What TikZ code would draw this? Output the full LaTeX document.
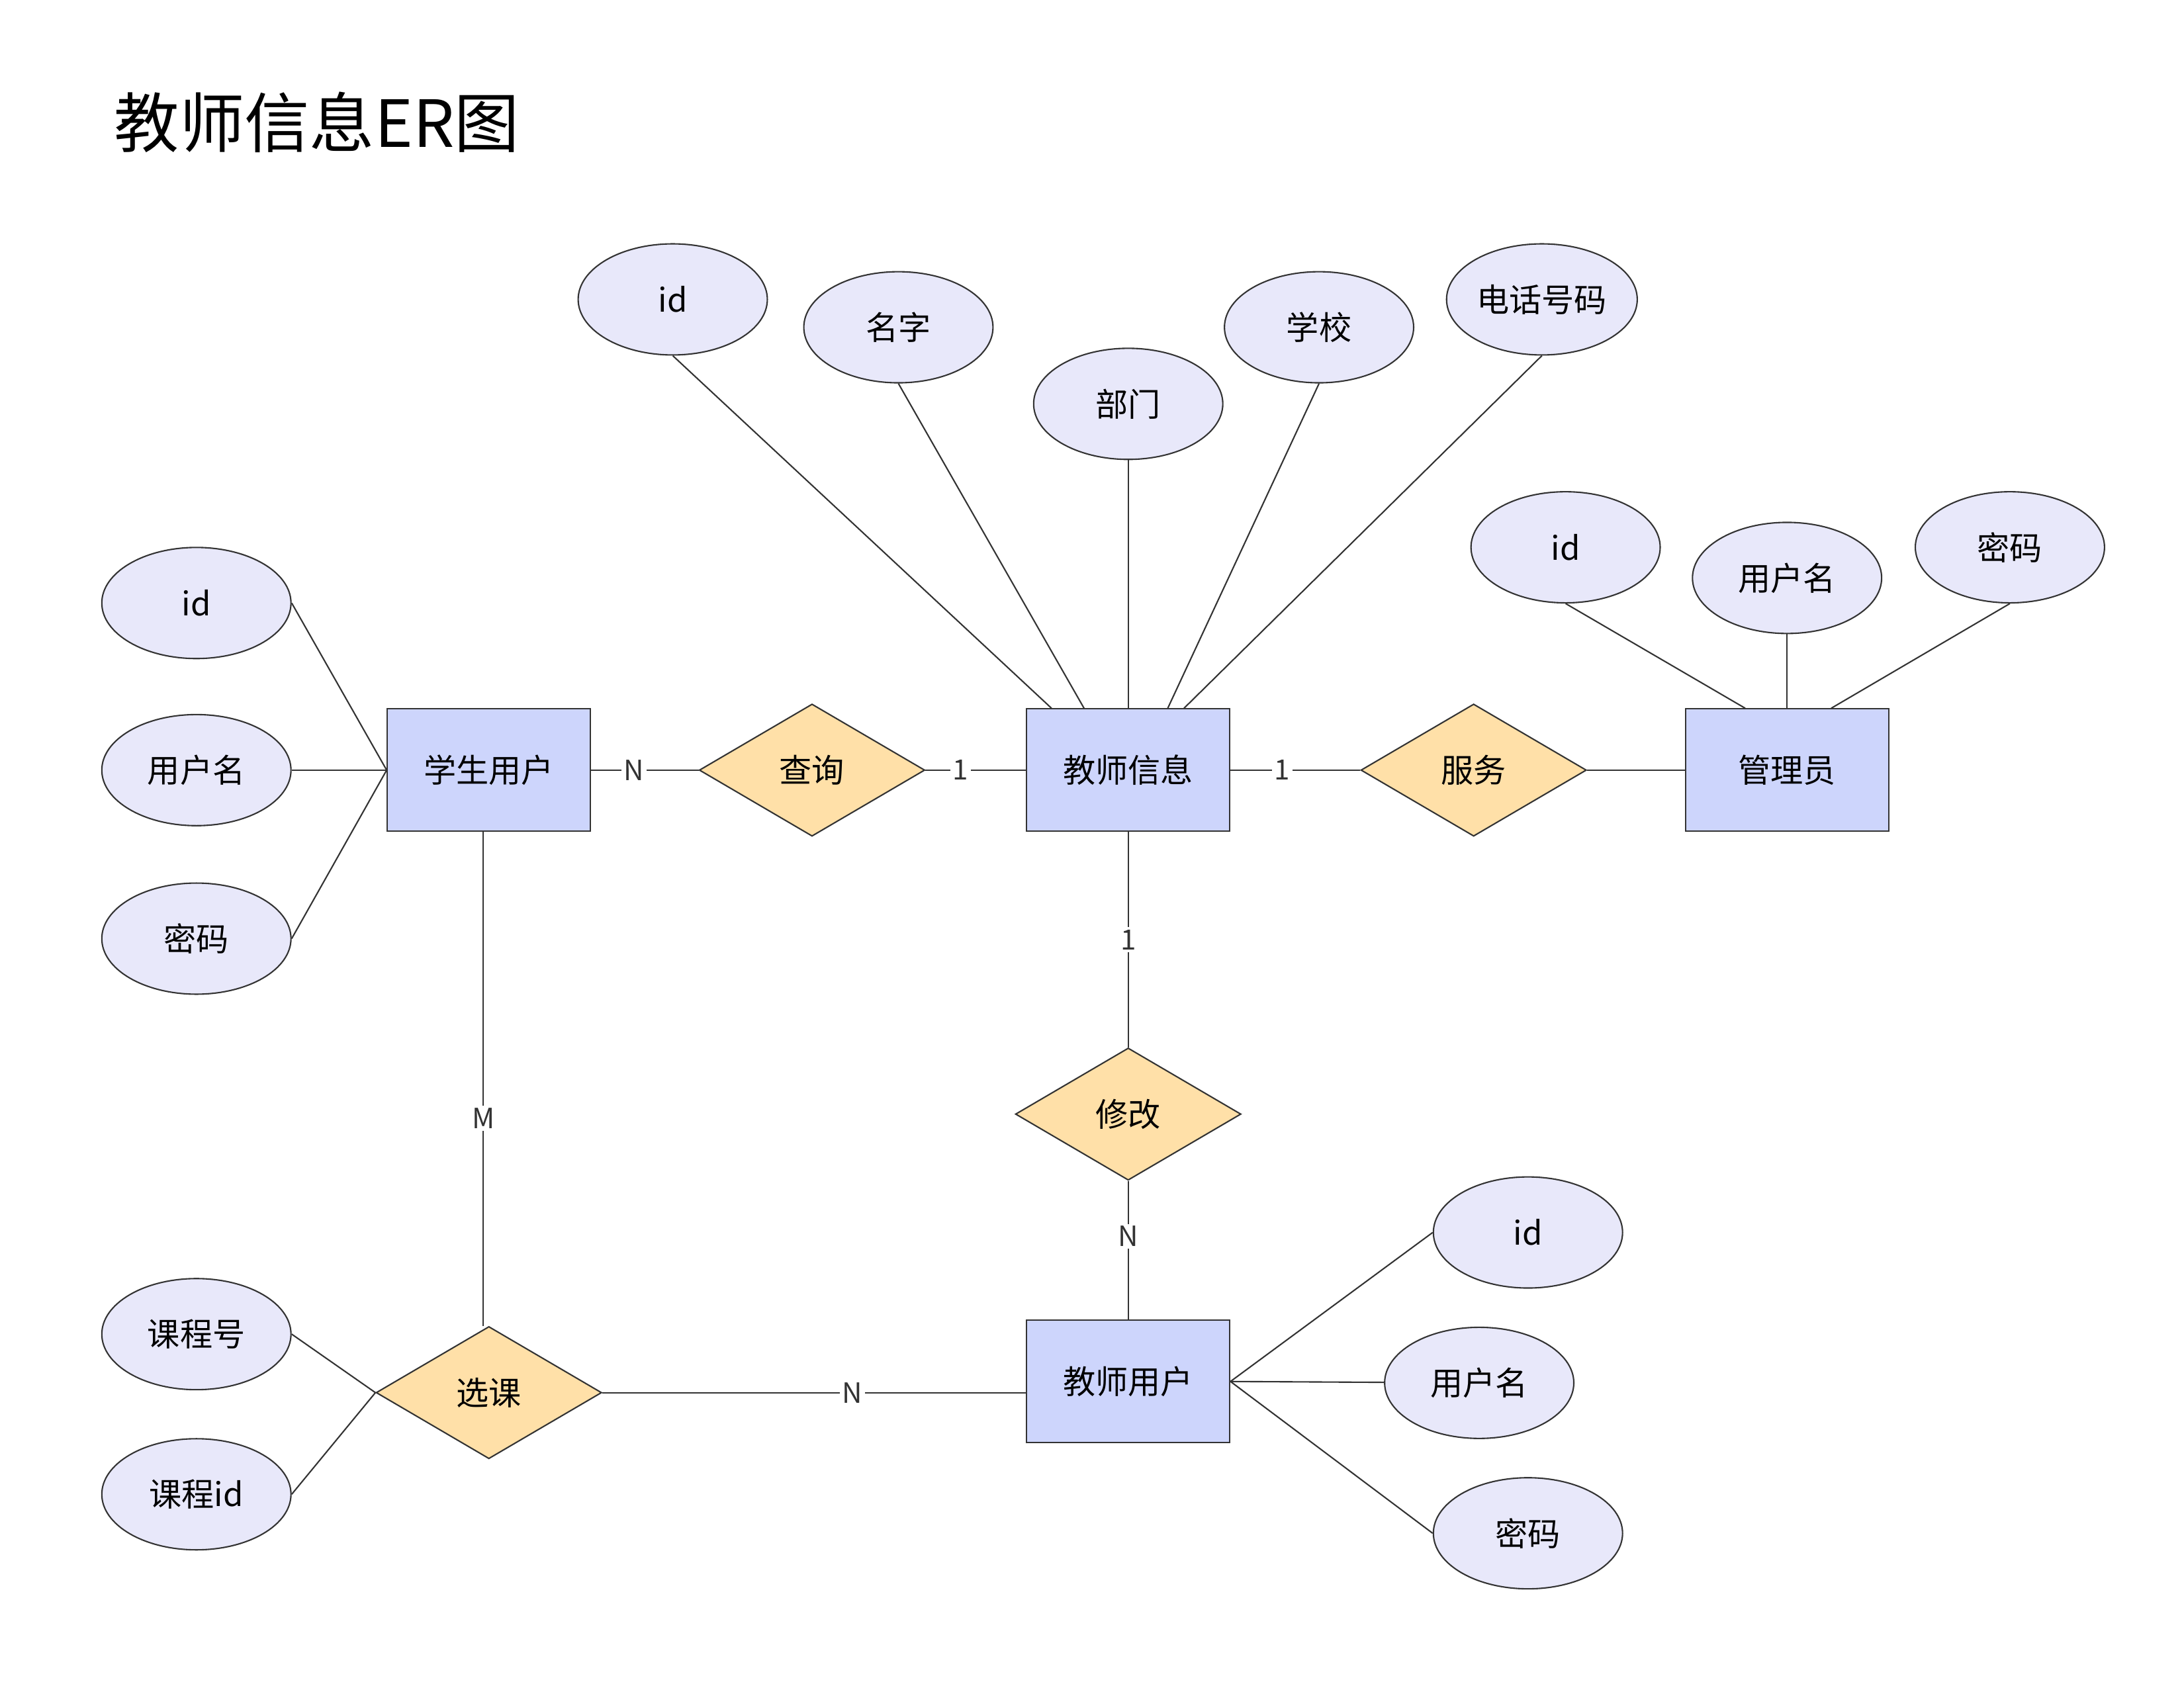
\documentclass[tikz,border=0pt]{standalone}
\usepackage{fontspec}
\setmainfont{Noto Sans CJK SC}
\usetikzlibrary{shapes.geometric}
\definecolor{attrfill}{HTML}{E8E8FA}
\definecolor{entfill}{HTML}{CDD5FC}
\definecolor{relfill}{HTML}{FFE0A8}
\definecolor{linec}{HTML}{333333}
\tikzset{
	attr/.style={shape=ellipse,draw=linec,fill=attrfill,minimum width=2.86cm,minimum height=1.68cm,inner sep=1pt,font=\fontsize{14}{16}\selectfont},
	ent/.style={shape=rectangle,draw=linec,fill=entfill,minimum width=3.07cm,minimum height=1.85cm,font=\fontsize{14}{16}\selectfont},
	rel/.style={shape=diamond,draw=linec,fill=relfill,minimum width=3.41cm,minimum height=2.0cm,inner sep=0pt,font=\fontsize{14}{16}\selectfont},
	card/.style={fill=white,inner sep=1pt,text=linec,font=\fontsize{12}{14}\selectfont}
}
\begin{document}
\begin{tikzpicture}[x=0.02105cm,y=-0.02105cm,line width=0.6pt]
	\useasboundingbox (0,0) rectangle (1568,1212);
	\node[anchor=west,font=\fontsize{28}{32}\selectfont] (title) at (76,88) {教师信息ER图};
	% entities
	\node[ent] (stu) at (351,553) {学生用户};
	\node[ent] (info) at (810,553) {教师信息};
	\node[ent] (adm) at (1283,553) {管理员};
	\node[ent] (tu) at (810,992) {教师用户};
	% relations
	\node[rel] (query) at (583,553) {查询};
	\node[rel] (serve) at (1058,553) {服务};
	\node[rel] (edit) at (810,800) {修改};
	\node[rel] (pick) at (351,1000) {选课};
	% attributes
	\node[attr] (iid) at (483,215) {id};
	\node[attr] (iname) at (645,235) {名字};
	\node[attr] (idep) at (810,290) {部门};
	\node[attr] (isch) at (947,235) {学校};
	\node[attr] (itel) at (1107,215) {电话号码};
	\node[attr] (aid) at (1124,393) {id};
	\node[attr] (auser) at (1283,415) {用户名};
	\node[attr] (apw) at (1443,393) {密码};
	\node[attr] (sid) at (141,433) {id};
	\node[attr] (suser) at (141,553) {用户名};
	\node[attr] (spw) at (141,674) {密码};
	\node[attr] (cno) at (141,958) {课程号};
	\node[attr] (cid) at (141,1073) {课程id};
	\node[attr] (tid) at (1097,885) {id};
	\node[attr] (tuser) at (1062,993) {用户名};
	\node[attr] (tpw) at (1097,1101) {密码};
	% attribute links
	\path[draw=linec] (iid.south) edge ([xshift=-33pt]info.north) (iname.south) edge ([xshift=-19pt]info.north)
		(idep) edge (info) (isch.south) edge ([xshift=17pt]info.north) (itel.south) edge ([xshift=24pt]info.north);
	\path[draw=linec] (aid.south) edge ([xshift=-18pt]adm.north) (auser) edge (adm) (apw.south) edge ([xshift=19pt]adm.north);
	\path[draw=linec] (sid.east) edge (stu.west) (suser) edge (stu.west) (spw.east) edge (stu.west);
	\path[draw=linec] (cno.east) edge (pick.west) (cid.east) edge (pick.west);
	\path[draw=linec] (tid.west) edge (tu.east) (tuser) edge (tu.east) (tpw.west) edge (tu.east);
	% relation links
	\path[draw=linec] (stu) edge node[card,pos=0.4]{N} (query);
	\path[draw=linec] (query) edge node[card,pos=0.35]{1} (info);
	\path[draw=linec] (info) edge node[card,pos=0.4]{1} (serve);
	\path[draw=linec] (serve) edge (adm);
	\path[draw=linec] (info) edge node[card]{1} (edit);
	\path[draw=linec] (edit) edge node[card,pos=0.4]{N} (tu);
	\path[draw=linec] (stu.south -| 347,0) edge node[card,pos=0.58]{M} (pick.north -| 347,0);
	\path[draw=linec] (pick.east) edge node[card,pos=0.59]{N} (tu.west |- pick.east);
\end{tikzpicture}
\end{document}
